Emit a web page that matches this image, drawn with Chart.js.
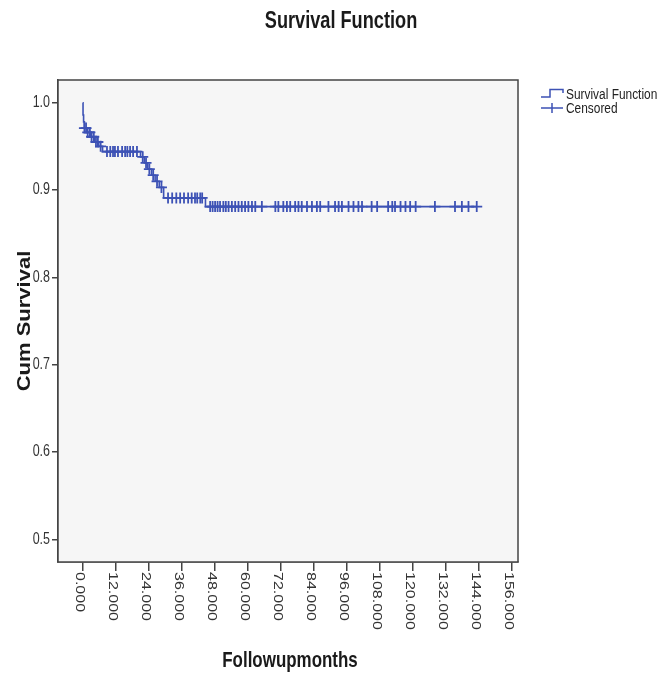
<!DOCTYPE html>
<html>
<head>
<meta charset="utf-8">
<title>Survival Function</title>
<script src="https://cdn.jsdelivr.net/npm/chart.js@4.4.1/dist/chart.umd.min.js"></script>
<style>
    html, body { margin: 0; padding: 0; background: #ffffff; }
    canvas { display: block; }
</style>
</head>
<body>
<canvas id="survChart" width="661" height="673"></canvas>
<script>
// Etapes Kaplan-Meier (mois, survie cumulee)
const eventTimes = [0.1, 0.3, 0.6, 1.5, 2.8, 4.2, 5.8, 7.2, 21.0, 22.4, 23.6, 25.0, 26.3, 27.8, 29.4, 44.6];
const survValues = [0.986, 0.978, 0.971, 0.966, 0.961, 0.955, 0.950, 0.944, 0.938, 0.931, 0.924, 0.917, 0.910, 0.903, 0.891, 0.881];
const lastFollowup = 143.2;

// Patients censures (mois)
const censorTimes = [
    0.6, 1.2, 1.8, 2.6, 3.2, 4.0, 4.8, 5.5, 6.5,
    8.8, 10.0, 11.0, 11.7, 12.8, 14.3, 15.4, 16.2, 17.2, 18.3, 19.7,
    21.8, 23.0, 24.2, 25.6, 27.0, 28.6,
    31.0, 32.5, 34.0, 35.4, 36.8, 38.3, 39.6, 40.8, 41.6, 42.7, 43.4,
    46.3, 47.2, 48.1, 49.0, 49.9, 51.1, 52.0, 53.0, 54.2, 55.4, 56.6, 57.8, 59.0, 60.2, 61.5, 62.7,
    65.1, 70.0, 71.1, 72.9, 74.2, 75.4, 77.2, 78.4, 79.6, 81.5, 83.3, 85.1, 86.3, 89.3, 91.7, 93.0,
    94.2, 96.6, 98.4, 100.2, 101.5, 105.0, 107.0, 111.0, 112.5, 113.5, 115.5, 117.3, 119.0, 121.0,
    128.0, 135.3, 137.8, 140.2, 143.2
];

// Graduations des axes
const xTickValues = [0, 12, 24, 36, 48, 60, 72, 84, 96, 108, 120, 132, 144, 156];
const yTickValues = [0.5, 0.6, 0.7, 0.8, 0.9, 1.0];

const blue = '#3d52b5';
const axisColor = '#444444';
const sans = "'Liberation Sans', Arial, sans-serif";

Chart.defaults.font.family = sans;

// Valeur de la fonction de survie a l'instant t
function survivalAt(t) {
    let s = 1;
    for (let i = 0; i < eventTimes.length; i++) {
        if (eventTimes[i] <= t) s = survValues[i];
    }
    return s;
}

const curvePoints = [{ x: 0, y: 1 }];
eventTimes.forEach((t, i) => curvePoints.push({ x: t, y: survValues[i] }));
curvePoints.push({ x: lastFollowup, y: survivalAt(lastFollowup) });

const censorPoints = censorTimes.map(t => ({ x: t, y: survivalAt(t) }));

// Texte resserre (la police SPSS est etroite)
function narrowText(ctx, text, x, y, opts) {
    ctx.save();
    ctx.translate(x, y);
    if (opts.angle) ctx.rotate(opts.angle);
    ctx.scale(opts.sx || 1, opts.sy || 1);
    ctx.font = opts.font;
    ctx.fillStyle = opts.color || '#222222';
    ctx.textAlign = opts.align || 'left';
    ctx.textBaseline = opts.baseline || 'alphabetic';
    ctx.fillText(text, 0, 0);
    ctx.restore();
}

// Fond gris, cadre, libelles, titres et legende
const spssFrame = {
    id: 'spssFrame',
    beforeDatasetsDraw(chart) {
        const { ctx, chartArea: a } = chart;
        ctx.save();
        ctx.fillStyle = '#f6f6f6';
        ctx.fillRect(a.left, a.top, a.right - a.left, a.bottom - a.top);
        ctx.restore();
    },
    afterDraw(chart) {
        const { ctx, chartArea: a } = chart;
        const xScale = chart.scales.x;
        const yScale = chart.scales.y;

        ctx.save();
        ctx.strokeStyle = axisColor;
        ctx.lineWidth = 1.5;
        ctx.strokeRect(a.left, a.top, a.right - a.left, a.bottom - a.top);
        ctx.restore();

        // libelles de l'axe X, lus de haut en bas
        xTickValues.forEach(v => {
            narrowText(ctx, v.toFixed(3), xScale.getPixelForValue(v) - 7, a.bottom + 10, {
                angle: Math.PI / 2, sy: 0.85, font: '16px ' + sans, color: '#333333'
            });
        });

        // libelles de l'axe Y
        yTickValues.forEach(v => {
            narrowText(ctx, v.toFixed(1), yScale.left + yScale.width - 8, yScale.getPixelForValue(v), {
                sx: 0.78, font: '16px ' + sans, color: '#333333', align: 'right', baseline: 'middle'
            });
        });

        // titres
        narrowText(ctx, 'Survival Function', 341, 28, {
            sx: 0.79, font: 'bold 23px ' + sans, color: '#1a1a1a', align: 'center'
        });
        narrowText(ctx, 'Followupmonths', (a.left + a.right) / 2 + 2, 667, {
            sx: 0.77, font: 'bold 22px ' + sans, color: '#1a1a1a', align: 'center'
        });
        narrowText(ctx, 'Cum Survival', 30, (a.top + a.bottom) / 2, {
            angle: -Math.PI / 2, sy: 0.8, font: 'bold 22px ' + sans, color: '#1a1a1a', align: 'center'
        });

        // legende
        ctx.save();
        ctx.strokeStyle = blue;
        ctx.lineWidth = 1.5;
        ctx.beginPath();
        ctx.moveTo(541, 97);
        ctx.lineTo(550, 97);
        ctx.lineTo(550, 89.5);
        ctx.lineTo(563, 89.5);
        ctx.lineTo(563, 93);
        ctx.stroke();

        ctx.beginPath();
        ctx.moveTo(541, 108);
        ctx.lineTo(563, 108);
        ctx.moveTo(552, 103);
        ctx.lineTo(552, 113);
        ctx.stroke();
        ctx.restore();

        narrowText(ctx, 'Survival Function', 566, 99, { sx: 0.85, font: '14px ' + sans });
        narrowText(ctx, 'Censored', 566, 113, { sx: 0.85, font: '14px ' + sans });
    }
};

new Chart(document.getElementById('survChart'), {
    type: 'scatter',
    data: {
        datasets: [
            {
                label: 'Survival Function',
                data: curvePoints,
                showLine: true,
                stepped: true,
                borderColor: blue,
                borderWidth: 1.6,
                pointRadius: 0,
                fill: false
            },
            {
                label: 'Censored',
                data: censorPoints,
                showLine: false,
                pointStyle: 'cross',
                pointRadius: 5.5,
                borderColor: blue,
                backgroundColor: blue,
                pointBorderWidth: 1.8
            }
        ]
    },
    options: {
        responsive: false,
        animation: false,
        events: [],
        layout: {
            padding: { top: 80, right: 143, bottom: 0, left: 0 }
        },
        scales: {
            x: {
                type: 'linear',
                min: -9,
                max: 158.2,
                afterBuildTicks: scale => {
                    scale.ticks = xTickValues.map(v => ({ value: v }));
                },
                afterFit: scale => { scale.height = 111; },
                ticks: { display: false },
                grid: {
                    drawOnChartArea: false,
                    drawTicks: true,
                    tickLength: 9,
                    color: axisColor,
                    lineWidth: 1.5
                },
                border: { display: true, color: axisColor, width: 1.5 }
            },
            y: {
                type: 'linear',
                min: 0.474,
                max: 1.026,
                afterBuildTicks: scale => {
                    scale.ticks = yTickValues.map(v => ({ value: v }));
                },
                afterFit: scale => { scale.width = 58; },
                ticks: { display: false },
                grid: {
                    drawOnChartArea: false,
                    drawTicks: true,
                    tickLength: 6,
                    color: axisColor,
                    lineWidth: 1.5
                },
                border: { display: true, color: axisColor, width: 1.5 }
            }
        },
        plugins: {
            legend: { display: false },
            title: { display: false },
            tooltip: { enabled: false }
        }
    },
    plugins: [spssFrame]
});
</script>
</body>
</html>
